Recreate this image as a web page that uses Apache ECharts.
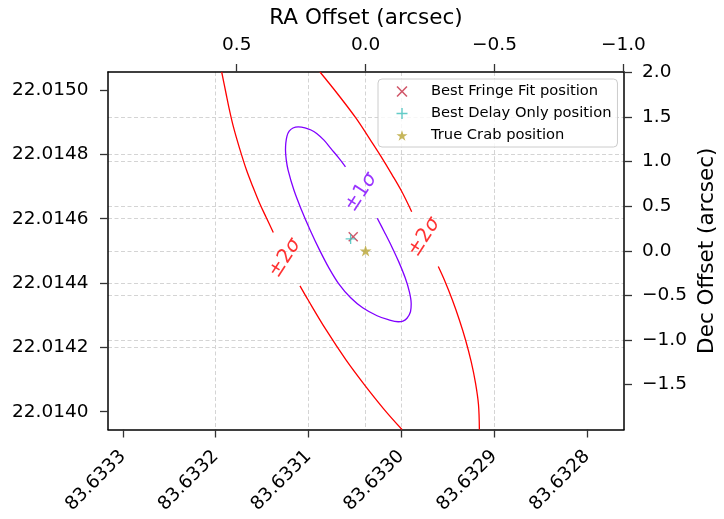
<!DOCTYPE html>
<html><head><meta charset="utf-8">
<script src="https://cdn.jsdelivr.net/npm/echarts@6/dist/echarts.min.js"></script>
<style>html,body{margin:0;padding:0;background:#fff}#c{width:724px;height:519px}</style>
</head><body><div id="c"></div>
<script>
// ---- axis ranges and tick labels ----
const raRange = [83.63276, 83.633316];            // bottom axis (deg), reversed
const decRange = [22.0139447, 22.015056];         // left axis (deg)
const raOffsetRange = [-1.0024, 0.9992];          // top axis (arcsec), reversed
const decOffsetRange = [-2.0048, 2.0048];         // right axis (arcsec)
const raTicks = [83.6328, 83.6329, 83.6330, 83.6331, 83.6332, 83.6333];
const decTicks = [22.0140, 22.0142, 22.0144, 22.0146, 22.0148, 22.0150];
const raOffsetTicks = [-1.0, -0.5, 0.0, 0.5];
const decOffsetTicks = [-1.5, -1.0, -0.5, 0.0, 0.5, 1.0, 1.5, 2.0];

// ---- contours (RA offset, Dec offset in arcsec) ----
const sigma1 = [[-0.0454,0.3643],[-0.0729,0.2109],[-0.1020,0.0431],[-0.1288,-0.1248],[-0.1536,-0.3038],[-0.1699,-0.4605],[-0.1769,-0.5948],[-0.1742,-0.6843],[-0.1606,-0.7571],[-0.1451,-0.7884],[-0.1268,-0.7962],[-0.0881,-0.7738],[-0.0446,-0.7291],[0.0112,-0.6395],[0.0578,-0.5276],[0.1040,-0.3710],[0.1424,-0.1919],[0.1788,0.0095],[0.2153,0.2333],[0.2486,0.4571],[0.2781,0.6810],[0.3006,0.9048],[0.3076,1.0167],[0.3107,1.1286],[0.3095,1.2069],[0.3049,1.2853],[0.2964,1.3412],[0.2816,1.3770],[0.2611,1.3893],[0.2351,1.3793],[0.2118,1.3546],[0.1885,1.3132],[0.1614,1.2405],[0.1342,1.1454],[0.1051,1.0447],[0.0780,0.9417]];
const sigma2LeftUpper = [[0.5582,2.0048],[0.5415,1.7665],[0.5279,1.5762],[0.5124,1.3860],[0.4891,1.1510],[0.4620,0.9048],[0.4368,0.7145],[0.4116,0.5355],[0.3863,0.3788],[0.3580,0.2054]];
const sigma2LeftLower = [[0.2545,-0.3934],[0.2234,-0.5500],[0.1536,-0.8857],[0.0768,-1.2215],[0.0050,-1.5012],[-0.0725,-1.7810],[-0.1412,-2.0048]];
const sigma2RightUpper = [[0.1769,2.0048],[0.1090,1.7609],[0.0372,1.4867],[-0.0190,1.2405],[-0.0578,1.0670],[-0.1024,0.8544],[-0.1393,0.6698],[-0.1788,0.4381]];
const sigma2RightLower = [[-0.2820,-0.1774],[-0.3053,-0.3262],[-0.3363,-0.5500],[-0.3635,-0.7738],[-0.3875,-0.9977],[-0.4096,-1.2439],[-0.4263,-1.4822],[-0.4379,-1.7251],[-0.4414,-2.0048]];

// contour labels
const contourLabelText = ['\u00b11', '\u00b12', '\u00b12'];
const contourLabelPos = [[0.018, 0.655], [0.313, -0.083], [-0.227, 0.152]];
const contourLabelColor = ['#8000ff', '#ff0000', '#ff0000'];

// ---- positions (arcsec offsets) ----
const bestFringe = [[0.048, 0.158]];
const bestDelay = [[0.058, 0.133]];
const trueCrab = [[0.0, 0.0]];

const FONT = 'DejaVu Sans';
const fmtSigned = v => (v < 0 ? '\u2212' : '') + Math.abs(v).toFixed(1);
const gridLine = {show: true, showMinLine: false, showMaxLine: false,
  lineStyle: {color: '#d4d4d4', width: 1, type: [4, 2.5]}};
const axisLine = {show: true, onZero: false, lineStyle: {color: '#000', width: 1.5}};
const tick = vals => ({show: true, length: 8, customValues: vals, lineStyle: {color: '#333', width: 1.3}});
const lbl = (vals, fmt, margin, extra) => Object.assign({show: true, customValues: vals, formatter: fmt,
  margin: margin, fontSize: 18.5, color: '#000', fontFamily: FONT}, extra || {});

const X_PATH = 'path://M-1,-0.8 L-0.8,-1 L0,-0.2 L0.8,-1 L1,-0.8 L0.2,0 L1,0.8 L0.8,1 L0,0.2 L-0.8,1 L-1,0.8 L-0.2,0 Z';
const PLUS_PATH = 'path://M-0.13,-1 L0.13,-1 L0.13,-0.13 L1,-0.13 L1,0.13 L0.13,0.13 L0.13,1 L-0.13,1 L-0.13,0.13 L-1,0.13 L-1,-0.13 L-0.13,-0.13 Z';
const STAR_PATH = 'path://M0,-1 L0.2245,-0.309 L0.951,-0.309 L0.363,0.118 L0.588,0.809 L0,0.382 L-0.588,0.809 L-0.363,0.118 L-0.951,-0.309 L-0.2245,-0.309 Z';

const lineSeries = (data, color) => ({type: 'line', xAxisIndex: 1, yAxisIndex: 1, data: data,
  showSymbol: false, symbol: 'none', smooth: 0.35, clip: true, silent: true, z: 2,
  lineStyle: {color: color, width: 1.3}});

const chart = echarts.init(document.getElementById('c'), null, {renderer: 'canvas'});
chart.setOption({
  animation: false,
  backgroundColor: '#fff',
  textStyle: {fontFamily: FONT},
  grid: {left: 108, top: 72, width: 516, height: 357.5, containLabel: false, outerBoundsMode: 'none'},
  xAxis: [
    {type: 'value', position: 'bottom', min: raRange[0], max: raRange[1], inverse: true, splitNumber: 5,
     axisLine: axisLine, axisTick: tick(raTicks), splitLine: gridLine,
     axisLabel: lbl(raTicks, v => v.toFixed(4), 24, {rotate: 45})},
    {type: 'value', position: 'top', min: raOffsetRange[0], max: raOffsetRange[1], inverse: true, splitNumber: 4,
     axisLine: axisLine, axisTick: tick(raOffsetTicks), splitLine: gridLine,
     axisLabel: lbl(raOffsetTicks, fmtSigned, 17),
     name: 'RA Offset (arcsec)', nameLocation: 'middle', nameGap: 43, nameMoveOverlap: false,
     nameTextStyle: {fontSize: 21.5, color: '#000', fontFamily: FONT}}
  ],
  yAxis: [
    {type: 'value', position: 'left', min: decRange[0], max: decRange[1], splitNumber: 5,
     axisLine: axisLine, axisTick: tick(decTicks), splitLine: gridLine,
     axisLabel: lbl(decTicks, v => v.toFixed(4), 19.5)},
    {type: 'value', position: 'right', min: decOffsetRange[0], max: decOffsetRange[1], splitNumber: 8,
     axisLine: axisLine, axisTick: tick(decOffsetTicks), splitLine: gridLine,
     axisLabel: lbl(decOffsetTicks, fmtSigned, 18),
     name: 'Dec Offset (arcsec)', nameLocation: 'middle', nameGap: 72, nameMoveOverlap: false,
     nameTextStyle: {fontSize: 21.5, color: '#000', fontFamily: FONT}}
  ],
  legend: {
    orient: 'vertical', left: 378, top: 79, padding: [5, 6, 4, 18.5],
    itemWidth: 11, itemHeight: 11, itemGap: 7, selectedMode: false,
    backgroundColor: 'rgba(255,255,255,0.8)', borderColor: '#cccccc', borderWidth: 1, borderRadius: 4,
    textStyle: {fontSize: 14.7, fontFamily: FONT, color: '#000', lineHeight: 15, padding: [0, 0, 0, 18.5]},
    data: ['Best Fringe Fit position', 'Best Delay Only position', 'True Crab position'],
    z: 10
  },
  series: [
    lineSeries(sigma1, '#8000ff'),
    lineSeries(sigma2LeftUpper, '#ff0000'),
    lineSeries(sigma2LeftLower, '#ff0000'),
    lineSeries(sigma2RightUpper, '#ff0000'),
    lineSeries(sigma2RightLower, '#ff0000'),
    {type: 'scatter', xAxisIndex: 1, yAxisIndex: 1, silent: true, z: 3,
     symbol: 'circle', symbolSize: 1, itemStyle: {color: 'rgba(0,0,0,0)'},
     data: contourLabelPos.map((p, i) => ({value: p, label: {
       color: contourLabelColor[i],
       rich: {s: {fontStyle: 'italic', fontSize: 20, fontFamily: FONT, color: contourLabelColor[i]}}}})),
     label: {show: true, position: 'inside', rotate: 57, fontSize: 20, fontFamily: FONT,
       formatter: p => contourLabelText[p.dataIndex] + '{s|\u03c3}'}},
    {name: 'Best Fringe Fit position', type: 'scatter', xAxisIndex: 1, yAxisIndex: 1, z: 5,
     data: bestFringe, symbol: X_PATH, symbolSize: 10, symbolKeepAspect: true, itemStyle: {color: '#c42c44'}},
    {name: 'Best Delay Only position', type: 'scatter', xAxisIndex: 1, yAxisIndex: 1, z: 5,
     data: bestDelay, symbol: PLUS_PATH, symbolSize: 10, symbolKeepAspect: true, itemStyle: {color: '#3dbfba'}},
    {name: 'True Crab position', type: 'scatter', xAxisIndex: 1, yAxisIndex: 1, z: 5,
     data: trueCrab, symbol: STAR_PATH, symbolSize: 12, symbolKeepAspect: true, itemStyle: {color: '#b8a432'}}
  ]
});
</script></body></html>
